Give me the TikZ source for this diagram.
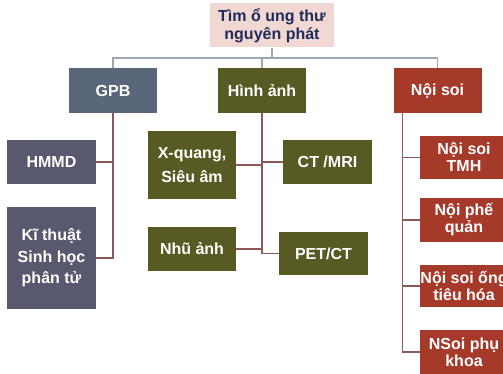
\documentclass[tikz,border=0pt]{standalone}
\usepackage{fontspec}
\setmainfont{Liberation Sans}
\usetikzlibrary{calc}
\definecolor{rootfill}{HTML}{F2D8D2}
\definecolor{roottext}{HTML}{1F2B5C}
\definecolor{slate}{HTML}{5A6679}
\definecolor{slatepurple}{HTML}{58596F}
\definecolor{olive}{HTML}{575A22}
\definecolor{brick}{HTML}{A63A2A}
\definecolor{busgray}{HTML}{9DA8B5}
\definecolor{brown}{HTML}{8E5858}
\tikzset{
  box/.style={draw=none, inner sep=0pt, align=center, text=white,
    font=\bfseries\fontsize{16}{21}\selectfont},
  rootbox/.style={box, fill=rootfill, text=roottext, minimum width=124pt, minimum height=44pt,
    font=\bfseries\fontsize{16}{18}\selectfont},
  gpbbox/.style={box, fill=slate, minimum width=88pt, minimum height=45pt},
  gchild/.style={box, fill=slatepurple, minimum width=89pt},
  obox/.style={box, fill=olive, minimum width=88pt},
  rbox/.style={box, fill=brick, minimum width=88pt, font=\bfseries\fontsize{16}{17}\selectfont},
  busline/.style={draw=busgray, line width=1.5pt},
  branch/.style={draw=brown, line width=1.6pt},
}
\begin{document}
\begin{tikzpicture}[x=1pt,y=-1pt]
\useasboundingbox (0,0) rectangle (503,374);
\clip (0,0) rectangle (503,374);
\fill[white] (0,0) rectangle (503,374);
\coordinate (bus) at (0,58);
\node[rootbox] (root) at (272,25.5) {Tìm ổ ung thư\\nguyên phát};
\node[gpbbox] (gpb) at (113,90.5) {GPB};
\node[gpbbox, fill=olive] (hinh) at (262,90.5) {Hình ảnh};
\node[gpbbox, fill=brick] (noisoi) at (437.5,90.5) {Nội soi};
\node[gchild, minimum height=44pt] (hmmd) at (51.5,162) {HMMD};
\node[gchild, minimum height=102pt, font=\bfseries\fontsize{16}{21.5}\selectfont] (kt) at (51.5,258) {Kĩ thuật\\Sinh học\\phân tử};
\node[obox, minimum height=68pt, font=\bfseries\fontsize{16}{24}\selectfont] (xq) at (192,165) {X-quang,\\Siêu âm};
\node[obox, minimum height=44pt] (nhu) at (192,249) {Nhũ ảnh};
\node[obox, minimum height=44pt, minimum width=89pt] (ct) at (327.5,162) {CT /MRI};
\node[obox, minimum height=43pt, minimum width=89pt] (pet) at (323.5,253.5) {PET/CT};
\node[rbox, minimum height=43pt] (tmh) at (464,157.5) {Nội soi\\TMH};
\node[rbox, minimum height=44pt] (pq) at (464,220) {Nội phế\\quản};
\node[rbox, minimum height=42pt] (th) at (464,286) {Nội soi ống\\tiêu hóa};
\node[rbox, minimum height=44pt] (pk) at (464,352) {NSoi phụ\\khoa};
% top bus
\draw[busline] (root.south) -- (root.south |- bus);
\draw[busline] (gpb.north) -- (gpb.north |- bus) -- (noisoi.north |- bus) -- (noisoi.north);
\draw[busline] (hinh.north) -- (hinh.north |- bus);
% GPB branch
\draw[branch] (gpb.south) |- (kt.east);
\draw[branch] (hmmd.east) -- (hmmd.east -| gpb.south);
% Hinh anh branch
\draw[branch] (hinh.south) |- (pet.west);
\draw[branch] (xq.east) -- (xq.east -| hinh.south);
\draw[branch] (nhu.east) -- (nhu.east -| hinh.south);
\draw[branch] (ct.west) -- (ct.west -| hinh.south);
% Noi soi branch
\coordinate (ns) at ($(noisoi.south west)+(9,0)$);
\draw[branch] (ns) |- (pk.west);
\draw[branch] (tmh.west) -- (tmh.west -| ns);
\draw[branch] (pq.west) -- (pq.west -| ns);
\draw[branch] (th.west) -- (th.west -| ns);
\end{tikzpicture}
\end{document}
